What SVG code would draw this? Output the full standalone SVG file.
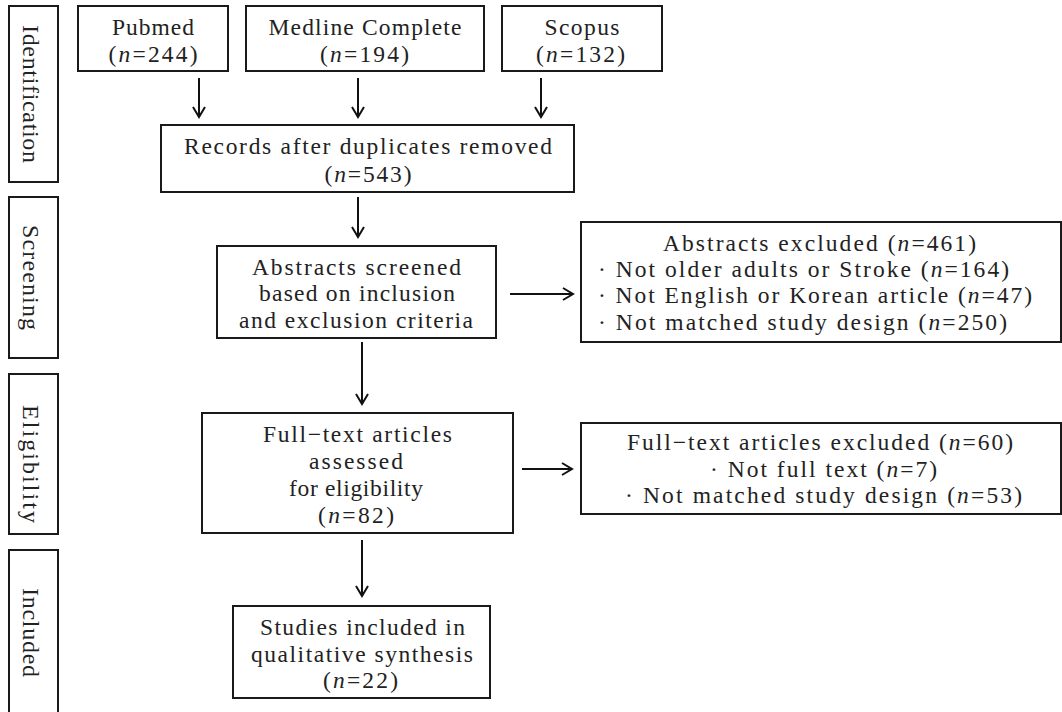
<svg xmlns="http://www.w3.org/2000/svg" width="1062" height="712" viewBox="0 0 1062 712">
<style>
.box{fill:#fff;stroke:#1a1a1a;stroke-width:2}
.t{font-family:"Liberation Serif","Times New Roman",serif;font-size:23.5px;fill:#222;text-anchor:middle}
.l{text-anchor:start}
.v{font-family:"Liberation Serif","Times New Roman",serif;font-size:24px;fill:#222;text-anchor:middle}
.c{stroke:#111;stroke-width:2;fill:none}
</style>
<defs>
<marker id="ah" markerUnits="userSpaceOnUse" viewBox="-12 -8 14 16" markerWidth="14" markerHeight="16" refX="0" refY="0" orient="auto">
<path d="M-10,-6 L0,0 L-10,6" fill="none" stroke="#111" stroke-width="2"/>
</marker>
</defs>
<rect width="1062" height="712" fill="#fff"/>

<g id="stage-identification">
<rect class="box" x="9" y="6" width="49" height="176"/>
<text class="v" transform="translate(23,94) rotate(90)" textLength="138" lengthAdjust="spacing">Identification</text>
</g>
<g id="stage-screening">
<rect class="box" x="9" y="197" width="49" height="161"/>
<text class="v" transform="translate(23,277.5) rotate(90)" textLength="105" lengthAdjust="spacing">Screening</text>
</g>
<g id="stage-eligibility">
<rect class="box" x="9" y="374" width="49" height="160"/>
<text class="v" transform="translate(23,464) rotate(90)" textLength="118" lengthAdjust="spacing">Eligibility</text>
</g>
<g id="stage-included">
<rect class="box" x="9" y="550" width="49" height="175"/>
<text class="v" transform="translate(23,632.5) rotate(90)" textLength="89" lengthAdjust="spacing">Included</text>
</g>

<g id="pubmed">
<rect class="box" x="78" y="6" width="150" height="65"/>
<text class="t" x="153" y="35" textLength="82" lengthAdjust="spacing">Pubmed</text>
<text class="t" x="153" y="62" textLength="89" lengthAdjust="spacing">(<tspan font-style="italic">n</tspan>=244)</text>
</g>
<g id="medline">
<rect class="box" x="246" y="6" width="238" height="65"/>
<text class="t" x="365" y="35" textLength="193" lengthAdjust="spacing">Medline Complete</text>
<text class="t" x="364.5" y="62" textLength="89" lengthAdjust="spacing">(<tspan font-style="italic">n</tspan>=194)</text>
</g>
<g id="scopus">
<rect class="box" x="502" y="6" width="160" height="65"/>
<text class="t" x="582" y="35" textLength="75" lengthAdjust="spacing">Scopus</text>
<text class="t" x="580.5" y="62" textLength="89" lengthAdjust="spacing">(<tspan font-style="italic">n</tspan>=132)</text>
</g>
<g id="records">
<rect class="box" x="161" y="125" width="413" height="67"/>
<text class="t" x="368" y="154" textLength="368" lengthAdjust="spacing">Records after duplicates removed</text>
<text class="t" x="368" y="182" textLength="87" lengthAdjust="spacing">(<tspan font-style="italic">n</tspan>=543)</text>
</g>
<g id="abstracts-screened">
<rect class="box" x="217" y="246" width="279" height="92"/>
<text class="t" x="356.5" y="275" textLength="209" lengthAdjust="spacing">Abstracts screened</text>
<text class="t" x="357" y="301" textLength="196" lengthAdjust="spacing">based on inclusion</text>
<text class="t" x="356" y="328" textLength="234" lengthAdjust="spacing">and exclusion criteria</text>
</g>
<g id="abstracts-excluded">
<rect class="box" x="581" y="222" width="480" height="120"/>
<text class="t" x="819.5" y="251" textLength="313" lengthAdjust="spacing">Abstracts excluded (<tspan font-style="italic">n</tspan>=461)</text>
<text class="t l" x="598" y="277" textLength="411" lengthAdjust="spacing">·  Not older adults or Stroke (<tspan font-style="italic">n</tspan>=164)</text>
<text class="t l" x="598" y="303" textLength="434" lengthAdjust="spacing">·  Not English or Korean article (<tspan font-style="italic">n</tspan>=47)</text>
<text class="t l" x="598" y="330" textLength="409" lengthAdjust="spacing">·  Not matched study design (<tspan font-style="italic">n</tspan>=250)</text>
</g>
<g id="fulltext-assessed">
<rect class="box" x="202" y="413" width="311" height="120"/>
<text class="t" x="357.5" y="442" textLength="189" lengthAdjust="spacing">Full−text articles</text>
<text class="t" x="356" y="469" textLength="94" lengthAdjust="spacing">assessed</text>
<text class="t" x="356" y="496" textLength="134" lengthAdjust="spacing">for eligibility</text>
<text class="t" x="356" y="523" textLength="76" lengthAdjust="spacing">(<tspan font-style="italic">n</tspan>=82)</text>
</g>
<g id="fulltext-excluded">
<rect class="box" x="581" y="423" width="480" height="91"/>
<text class="t" x="820" y="450" textLength="386" lengthAdjust="spacing">Full−text articles excluded (<tspan font-style="italic">n</tspan>=60)</text>
<text class="t" x="823.5" y="477" textLength="227" lengthAdjust="spacing">·  Not full text (<tspan font-style="italic">n</tspan>=7)</text>
<text class="t" x="823.5" y="503" textLength="397" lengthAdjust="spacing">·  Not matched study design (<tspan font-style="italic">n</tspan>=53)</text>
</g>
<g id="included-studies">
<rect class="box" x="233" y="606" width="257" height="92"/>
<text class="t" x="362.5" y="635" textLength="205" lengthAdjust="spacing">Studies included in</text>
<text class="t" x="362" y="662" textLength="222" lengthAdjust="spacing">qualitative synthesis</text>
<text class="t" x="360.5" y="688" textLength="75" lengthAdjust="spacing">(<tspan font-style="italic">n</tspan>=22)</text>
</g>

<g id="connectors">
<line class="c" x1="199" y1="78" x2="199" y2="117" marker-end="url(#ah)"/>
<line class="c" x1="358" y1="78" x2="358" y2="117" marker-end="url(#ah)"/>
<line class="c" x1="541" y1="78" x2="541" y2="117" marker-end="url(#ah)"/>
<line class="c" x1="358" y1="197" x2="358" y2="237" marker-end="url(#ah)"/>
<line class="c" x1="510" y1="294" x2="573" y2="294" marker-end="url(#ah)"/>
<line class="c" x1="362" y1="342" x2="362" y2="404" marker-end="url(#ah)"/>
<line class="c" x1="522" y1="469" x2="572" y2="469" marker-end="url(#ah)"/>
<line class="c" x1="362" y1="540" x2="362" y2="596" marker-end="url(#ah)"/>
</g>
</svg>
